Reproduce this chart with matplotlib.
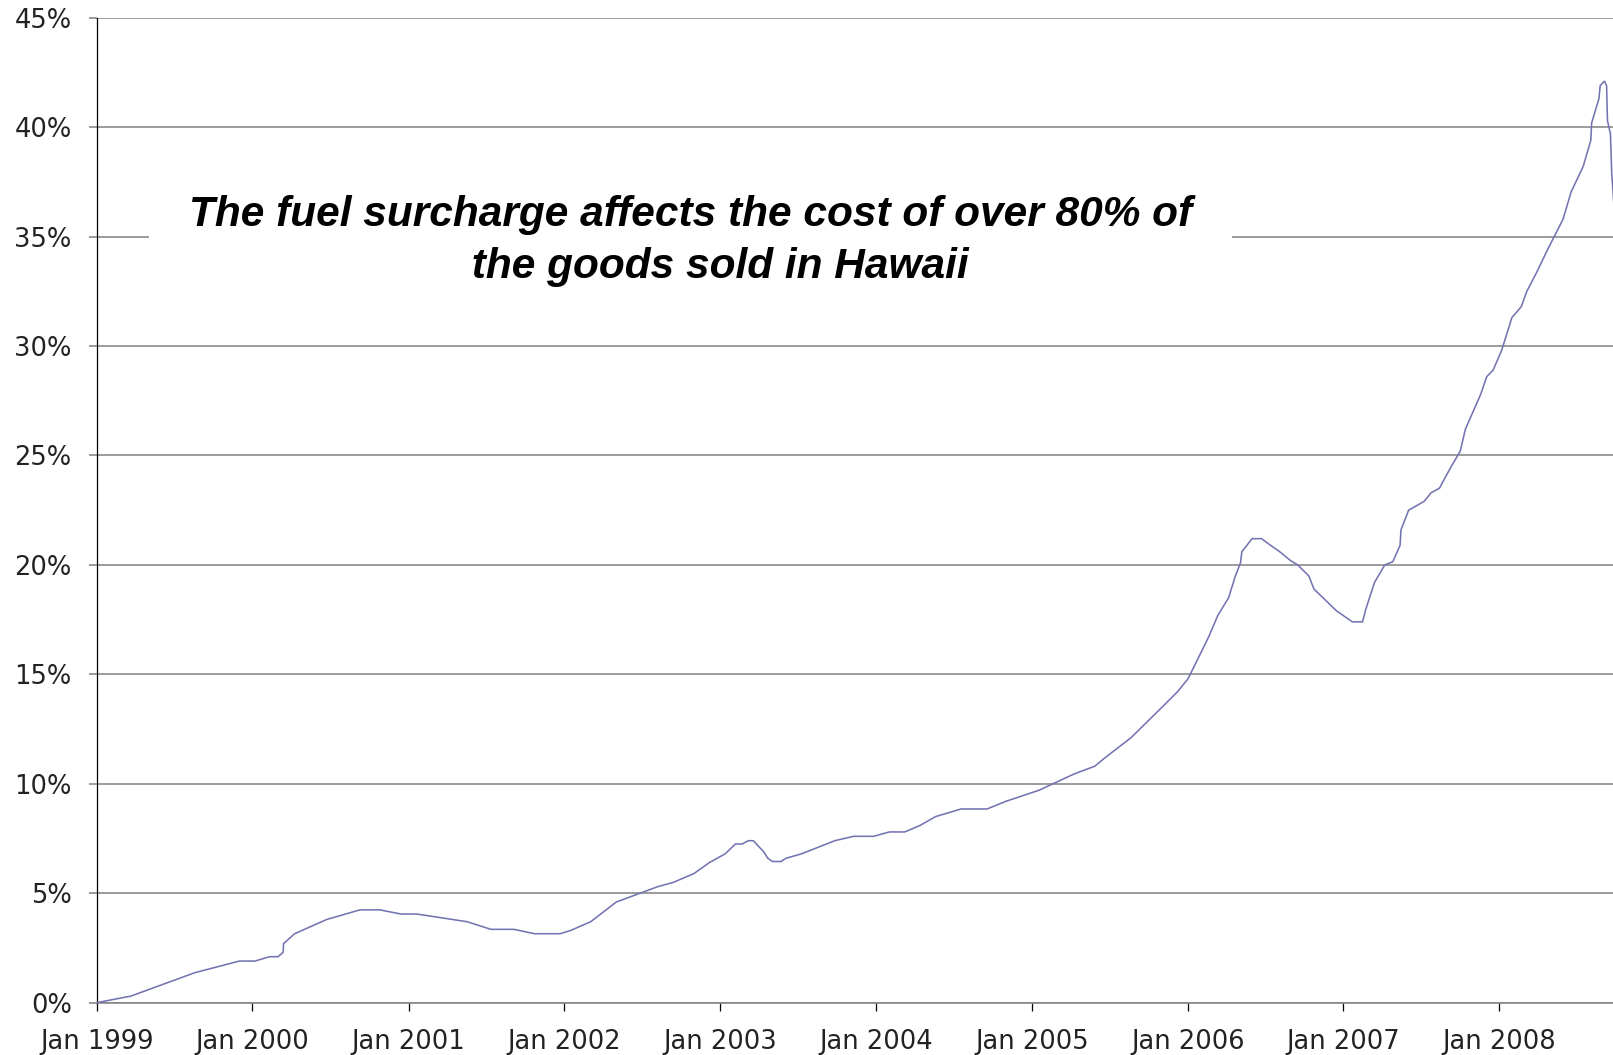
import matplotlib
matplotlib.use("Agg")
import matplotlib.pyplot as plt
import pandas as pd

# fuel surcharge level (%) through time
fechas = [
    "1999-01-01", "1999-03-22", "1999-08-19", "1999-10-23", "1999-12-01",
    "2000-01-07", "2000-02-10", "2000-03-01", "2000-03-13", "2000-03-14",
    "2000-04-09", "2000-06-23", "2000-09-09", "2000-10-26", "2000-12-14",
    "2001-01-20", "2001-05-18", "2001-07-13", "2001-09-05", "2001-10-23",
    "2001-12-22", "2002-01-16", "2002-03-04", "2002-05-03", "2002-08-08",
    "2002-09-14", "2002-11-01", "2002-12-07", "2003-01-13", "2003-02-06",
    "2003-02-22", "2003-03-08", "2003-03-20", "2003-04-13", "2003-04-23",
    "2003-05-04", "2003-05-24", "2003-06-05", "2003-07-11", "2003-09-27",
    "2003-11-10", "2003-12-27", "2004-02-02", "2004-03-09", "2004-04-14",
    "2004-05-20", "2004-07-19", "2004-09-18", "2004-11-01", "2005-01-17",
    "2005-04-10", "2005-05-28", "2005-06-22", "2005-08-21", "2005-11-02",
    "2005-12-08", "2006-01-02", "2006-02-19", "2006-03-13", "2006-04-07",
    "2006-04-23", "2006-05-05", "2006-05-08", "2006-06-01", "2006-06-23",
    "2006-07-07", "2006-08-05", "2006-08-30", "2006-09-16", "2006-10-12",
    "2006-10-24", "2006-12-16", "2007-01-22", "2007-02-15", "2007-02-23",
    "2007-02-28", "2007-03-15", "2007-04-08", "2007-04-27", "2007-05-14",
    "2007-05-16", "2007-06-03", "2007-07-09", "2007-07-26", "2007-08-14",
    "2007-09-08", "2007-10-02", "2007-10-14", "2007-11-19", "2007-12-03",
    "2007-12-18", "2008-01-07", "2008-01-31", "2008-02-22", "2008-03-06",
    "2008-03-30", "2008-04-21", "2008-05-30", "2008-06-18", "2008-07-16",
    "2008-08-03", "2008-08-05", "2008-08-22", "2008-08-25", "2008-09-04",
    "2008-09-09", "2008-09-11", "2008-09-18", "2008-09-21", "2008-09-26",
]
recargo = [
    0.0, 0.3, 1.37, 1.7, 1.9,
    1.9, 2.1, 2.1, 2.3, 2.7,
    3.15, 3.8, 4.24, 4.24, 4.05,
    4.05, 3.7, 3.35, 3.35, 3.15,
    3.15, 3.3, 3.7, 4.6, 5.3,
    5.5, 5.9, 6.4, 6.8, 7.25,
    7.25, 7.4, 7.4, 6.9, 6.6,
    6.45, 6.45, 6.6, 6.8, 7.4,
    7.6, 7.6, 7.8, 7.8, 8.1,
    8.5, 8.85, 8.85, 9.2, 9.7,
    10.45, 10.8, 11.2, 12.1, 13.5,
    14.2, 14.8, 16.7, 17.7, 18.5,
    19.5, 20.1, 20.6, 21.2, 21.2,
    21.0, 20.6, 20.2, 20.0, 19.5,
    18.9, 17.9, 17.4, 17.4, 18.0,
    18.3, 19.2, 20.0, 20.15, 20.9,
    21.6, 22.5, 22.9, 23.3, 23.5,
    24.4, 25.2, 26.2, 27.8, 28.6,
    28.9, 29.8, 31.3, 31.8, 32.5,
    33.4, 34.3, 35.8, 37.05, 38.2,
    39.4, 40.2, 41.3, 41.9, 42.1,
    41.9, 40.3, 39.7, 37.9, 36.5,
]
anios = list(range(1999, 2009))
niveles = [0, 5, 10, 15, 20, 25, 30, 35, 40, 45]
mensaje = "The fuel surcharge affects the cost of over 80% of\n     the goods sold in Hawaii"

x = pd.to_datetime(fechas)

fig = plt.figure(figsize=(16.13, 10.55), dpi=100)
ax = fig.add_axes([0.05995, 0.0496, 0.94005, 0.9336])

ax.plot(x, recargo, color="#7474b2", lw=1.15, zorder=3)

ax.set_ylim(0, 45)
ax.set_xlim(pd.Timestamp("1999-01-01"), pd.Timestamp("2008-09-24"))
ax.set_yticks(niveles)
ax.set_yticklabels([f"{n}%" for n in niveles])
ax.set_xticks([pd.Timestamp(f"{a}-01-01") for a in anios])
ax.set_xticklabels([f"Jan {a}" for a in anios])

ax.yaxis.grid(True, color="#808080", lw=1.1)
ax.set_axisbelow(True)
for lado in ["top", "right"]:
    ax.spines[lado].set_visible(False)
ax.spines["left"].set_color("black")
ax.spines["left"].set_linewidth(0.9)
ax.spines["bottom"].set_color("#808080")
ax.spines["bottom"].set_linewidth(1.1)

ax.tick_params(axis="y", length=6, width=1.1, color="#808080", pad=12,
               labelsize=18.5, labelcolor="#222222")
ax.tick_params(axis="x", length=6, width=0.9, color="black", pad=13,
               labelsize=18.5, labelcolor="#222222")

ax.text(0.3915, 34.8, mensaje, transform=ax.get_yaxis_transform(),
        ha="center", va="center", fontsize=30.5, fontweight="bold",
        fontstyle="italic", family="Liberation Sans", linespacing=1.38,
        bbox=dict(facecolor="white", edgecolor="none", pad=29), zorder=4)

fig.savefig("out.png", dpi=100)
